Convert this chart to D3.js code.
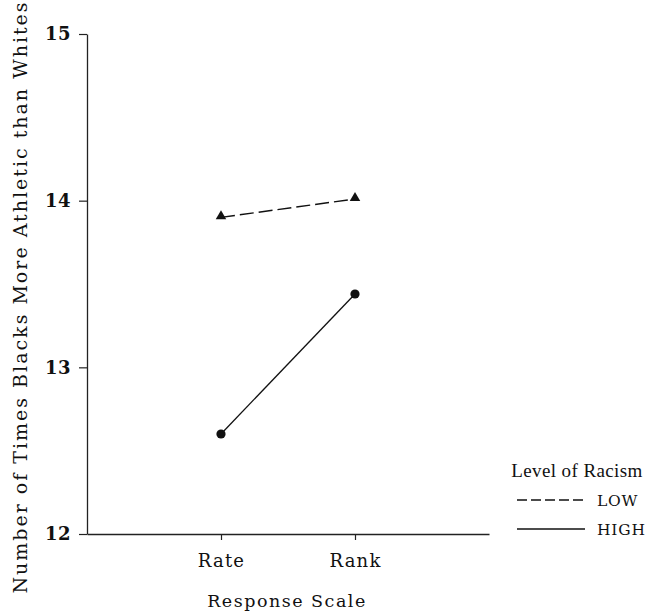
<!DOCTYPE html>
<html>
<head>
<meta charset="utf-8">
<script src="https://cdn.jsdelivr.net/npm/d3@7"></script>
<style>
  html, body { margin: 0; padding: 0; background: #fff; }
  svg { display: block; }
  text { fill: #111; }
</style>
</head>
<body>
<div id="chart"></div>
<script>
// Response scale conditions on the x axis
const categories = ["Rate", "Rank"];
// Mean number of times Blacks rated more athletic than Whites
const lowRacism = [13.90, 14.01];
const highRacism = [12.60, 13.44];
const yTicks = [12, 13, 14, 15];
const seriesNames = ["LOW", "HIGH"];

const W = 662, H = 615;
const serif = "'DejaVu Serif', 'Liberation Serif', serif";

const svg = d3.select("#chart").append("svg")
  .attr("width", W).attr("height", H);

// x: categories sit at positions 1 and 2 of a 0..3 span
const x = d3.scaleLinear().domain([0, 3]).range([87, 489]);
const y = d3.scaleLinear().domain([12, 15]).range([534, 34]);

// y axis
const yAxis = svg.append("g")
  .attr("transform", `translate(${x(0)},0)`)
  .call(d3.axisLeft(y).tickValues(yTicks).tickFormat(d3.format("d")).tickSize(8).tickSizeOuter(0));
yAxis.select(".domain").attr("stroke", "#222").attr("stroke-width", 1.3);
yAxis.selectAll(".tick line").attr("stroke", "#222").attr("stroke-width", 1.2);
yAxis.selectAll(".tick text")
  .attr("font-family", serif).attr("font-size", 18).attr("font-weight", "bold")
  .attr("letter-spacing", 0.5)
  .attr("x", -16).attr("fill", "#111");

// x axis
const xAxis = svg.append("g")
  .attr("transform", `translate(0,${y(12)})`)
  .call(d3.axisBottom(x).tickValues([1, 2]).tickFormat((d) => categories[d - 1]).tickSize(6).tickSizeOuter(0));
xAxis.select(".domain").attr("stroke", "#222").attr("stroke-width", 1.3);
xAxis.selectAll(".tick line").attr("stroke", "#222").attr("stroke-width", 1.2);
xAxis.selectAll(".tick text")
  .attr("font-family", serif).attr("font-size", 18)
  .attr("letter-spacing", 1.2)
  .attr("dy", 0).attr("y", 33).attr("fill", "#111");

// axis titles
svg.append("text")
  .attr("x", x(1.5) - 1).attr("y", 607)
  .attr("text-anchor", "middle")
  .attr("font-family", serif).attr("font-size", 17.5)
  .attr("letter-spacing", 1.5)
  .text("Response Scale");

svg.append("text")
  .attr("transform", `translate(27,${297}) rotate(-90)`)
  .attr("text-anchor", "middle")
  .attr("font-family", serif).attr("font-size", 19)
  .attr("letter-spacing", 2)
  .text("Number of Times Blacks More Athletic than Whites");

// lines
const line = d3.line().x((d, i) => x(i + 1)).y((d) => y(d));

svg.append("path").datum(lowRacism)
  .attr("d", line).attr("fill", "none")
  .attr("stroke", "#111").attr("stroke-width", 1.4)
  .attr("stroke-dasharray", "14,5");

svg.append("path").datum(highRacism)
  .attr("d", line).attr("fill", "none")
  .attr("stroke", "#111").attr("stroke-width", 1.3);

// markers
const tri = d3.symbol().type(d3.symbolTriangle).size(48);
svg.selectAll(".tri").data(lowRacism).join("path")
  .attr("class", "tri")
  .attr("transform", (d, i) => `translate(${x(i + 1)},${y(d) - 1})`)
  .attr("d", tri).attr("fill", "#111");

svg.selectAll(".dot").data(highRacism).join("circle")
  .attr("class", "dot")
  .attr("cx", (d, i) => x(i + 1)).attr("cy", (d) => y(d))
  .attr("r", 4.6).attr("fill", "#111");

// legend
const lg = svg.append("g");
lg.append("text")
  .attr("x", 577).attr("y", 477)
  .attr("text-anchor", "middle")
  .attr("font-family", "'Liberation Serif', serif").attr("font-size", 19)
  .attr("letter-spacing", 0.4)
  .text("Level of Racism");

const legendRows = [
  { name: seriesNames[0], dash: "10,4", yy: 500 },
  { name: seriesNames[1], dash: null, yy: 529 }
];
legendRows.forEach((r) => {
  lg.append("line")
    .attr("x1", 517).attr("x2", 585).attr("y1", r.yy).attr("y2", r.yy)
    .attr("stroke", "#111").attr("stroke-width", 1.3)
    .attr("stroke-dasharray", r.dash);
  lg.append("text")
    .attr("x", 597).attr("y", r.yy + 6)
    .attr("font-family", serif).attr("font-size", 15.5)
    .attr("letter-spacing", 0.8)
    .text(r.name);
});
</script>
</body>
</html>
